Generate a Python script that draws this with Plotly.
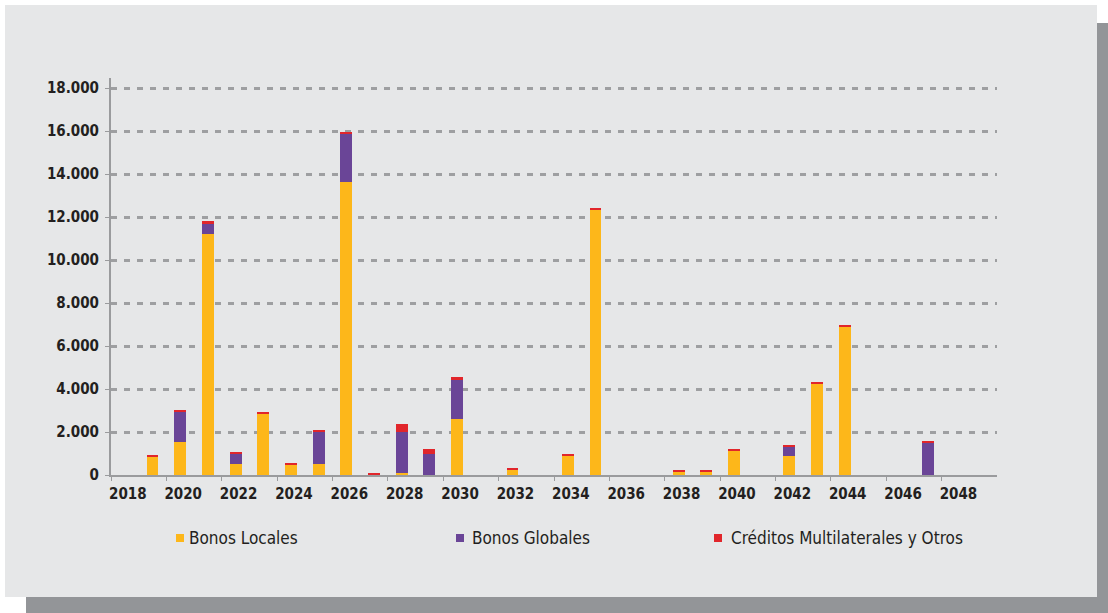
import plotly.graph_objects as go

# Calendar years on the category axis (2018-2049)
years = list(range(2018, 2050))

# Debt maturities by year (millions), stacked by instrument
bonos_locales = [0, 850, 1550, 11220, 530, 2850, 480, 530, 13640, 0, 70, 0, 2620, 0, 250, 0,
                 900, 12340, 0, 0, 150, 150, 1130, 0, 900, 4250, 6900, 0, 0, 0, 0, 0]
bonos_globales = [0, 0, 1400, 450, 460, 0, 0, 1450, 2200, 0, 1940, 990, 1810, 0, 0, 0,
                  0, 0, 0, 0, 0, 0, 0, 0, 420, 0, 0, 0, 0, 1500, 0, 0]
creditos = [0, 100, 90, 150, 90, 90, 90, 125, 125, 100, 370, 230, 140, 0, 90, 0,
            90, 90, 0, 0, 100, 100, 90, 0, 90, 90, 100, 0, 0, 90, 0, 0]

series_names = ["Bonos Locales", "Bonos Globales", "Créditos Multilaterales y Otros"]
series_colors = ["#FDB71A", "#6A4597", "#E1262B"]

y_ticks = list(range(0, 20000, 2000))
x_label_years = list(range(2018, 2050, 2))

FONT = "DejaVu Sans Condensed, Liberation Sans Narrow, sans-serif"
TEXT = "#231f20"
GRID = "#9e9fa1"
AXIS = "#9a9b9d"

W, H = 1108, 613
L, R, T, B = 111, 111, 78, 138
PW, PH = W - L - R, H - T - B


def px_x(x):
    return (x - L) / PW


def px_y(y):
    return (H - B - y) / PH


fig = go.Figure()
for name, vals, color in zip(series_names, [bonos_locales, bonos_globales, creditos], series_colors):
    fig.add_trace(go.Bar(x=years, y=vals, name=name, marker=dict(color=color, line=dict(width=0)),
                         width=0.43, showlegend=False))

shapes = [
    # drop shadow and light panel behind the chart
    dict(type="rect", xref="paper", yref="paper", layer="below",
         x0=px_x(26), x1=px_x(1108), y0=px_y(613), y1=px_y(23),
         fillcolor="#939598", line=dict(width=0)),
    dict(type="rect", xref="paper", yref="paper", layer="below",
         x0=px_x(5), x1=px_x(1097), y0=px_y(597), y1=px_y(5),
         fillcolor="#E6E7E8", line=dict(width=0)),
]

# Hand-placed legend row
annotations = []
legend_pos = [(176, 189), (456, 472), (714, 731)]
for (sx, tx), name, color in zip(legend_pos, series_names, series_colors):
    shapes.append(dict(type="rect", xref="paper", yref="paper",
                       x0=px_x(sx), x1=px_x(sx + 8), y0=px_y(542), y1=px_y(534),
                       fillcolor=color, line=dict(width=0)))
    annotations.append(dict(xref="paper", yref="paper", x=px_x(tx - 2), y=px_y(538),
                            xanchor="left", yanchor="middle", text=name, showarrow=False,
                            font=dict(family=FONT, size=17, color=TEXT)))

tick_font = dict(family=FONT, size=15, color=TEXT, weight="bold")

fig.update_layout(
    width=W, height=H,
    margin=dict(l=L, r=R, t=T, b=B, pad=0),
    paper_bgcolor="white", plot_bgcolor="rgba(0,0,0,0)",
    barmode="stack", bargap=0,
    separators=",.",
    shapes=shapes, annotations=annotations,
    showlegend=False,
    font=dict(family=FONT, color=TEXT),
    xaxis=dict(
        range=[2017.5, 2049.5], tickmode="array", tickvals=x_label_years,
        ticktext=[str(y) for y in x_label_years], ticks="",
        tickfont=tick_font, ticklabelshift=3, ticklabelstandoff=4,
        showgrid=False, zeroline=False,
        showline=True, linecolor=AXIS, linewidth=2,
        minor=dict(tickmode="array", tickvals=[y - 0.5 for y in x_label_years],
                   ticks="outside", ticklen=4, tickwidth=1, tickcolor=AXIS, showgrid=False),
    ),
    yaxis=dict(
        range=[0, 18465], tickmode="array", tickvals=y_ticks, tickformat=",d",
        ticks="outside", ticklen=4, tickwidth=1, tickcolor=AXIS,
        tickfont=tick_font, ticklabelstandoff=3,
        showgrid=True, gridcolor=GRID, gridwidth=3, griddash="6px,7px",
        zeroline=False, showline=True, linecolor=AXIS, linewidth=2,
    ),
)

fig.write_html("out.html")
